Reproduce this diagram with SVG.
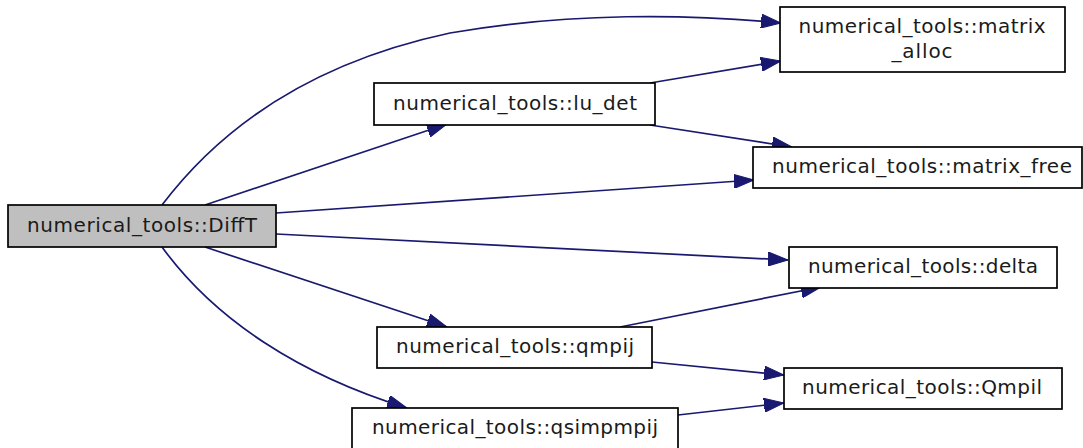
<svg xmlns="http://www.w3.org/2000/svg" width="1083" height="448" viewBox="0 0 1083 448">
  <style>
    .node rect { fill: #ffffff; stroke: #000000; stroke-width: 1.7; }
    .node.root rect { fill: #bfbfbf; }
    .node text { font-family: "DejaVu Sans", "Liberation Sans", sans-serif; font-size: 20px; fill: #1a1a1a; text-anchor: middle; }
    .edge { fill: none; stroke: #191970; stroke-width: 1.7; marker-end: url(#arrow); }
  </style>
  <defs>
    <marker id="arrow" viewBox="0 0 20 14" markerWidth="20" markerHeight="14" markerUnits="userSpaceOnUse" refX="20" refY="7" orient="auto">
      <path d="M0,0 L20,7 L0,14 z" fill="#191970" stroke="#191970" stroke-width="1"/>
    </marker>
  </defs>

  <!-- call edges -->
  <g id="edges">
    <path class="edge" d="M162,205 C215,135 300,65 450,33 C570,12 690,14 781,23"/>
    <path class="edge" d="M205,205 L447,124"/>
    <path class="edge" d="M650,83 L781,61"/>
    <path class="edge" d="M650,125 L792,147"/>
    <path class="edge" d="M276,213 L754,180"/>
    <path class="edge" d="M276,234 L788,260"/>
    <path class="edge" d="M205,247 L447,327"/>
    <path class="edge" d="M620,327 L821,287"/>
    <path class="edge" d="M652,362 L784,375"/>
    <path class="edge" d="M162,247 C215,320 300,375 407,408"/>
    <path class="edge" d="M678,415 L784,403"/>
  </g>

  <g id="node-DiffT" class="node root">
    <rect x="8" y="205" width="268" height="42"/>
    <text x="142" y="232" textLength="230" lengthAdjust="spacing">numerical_tools::DiffT</text>
  </g>
  <g id="node-lu_det" class="node">
    <rect x="374" y="83" width="281" height="42"/>
    <text x="515" y="110" textLength="244" lengthAdjust="spacing">numerical_tools::lu_det</text>
  </g>
  <g id="node-matrix_alloc" class="node">
    <rect x="780" y="7" width="285" height="65"/>
    <text x="922" y="33" textLength="247" lengthAdjust="spacing">numerical_tools::matrix</text>
    <text x="922" y="58" textLength="61" lengthAdjust="spacing">_alloc</text>
  </g>
  <g id="node-matrix_free" class="node">
    <rect x="753" y="147" width="329" height="41"/>
    <text x="922" y="173" textLength="300" lengthAdjust="spacing">numerical_tools::matrix_free</text>
  </g>
  <g id="node-delta" class="node">
    <rect x="789" y="247" width="268" height="41"/>
    <text x="923" y="273" textLength="230" lengthAdjust="spacing">numerical_tools::delta</text>
  </g>
  <g id="node-qmpij" class="node">
    <rect x="377" y="327" width="275" height="41"/>
    <text x="515" y="353" textLength="238" lengthAdjust="spacing">numerical_tools::qmpij</text>
  </g>
  <g id="node-Qmpil" class="node">
    <rect x="784" y="368" width="278" height="41"/>
    <text x="922" y="394" textLength="240" lengthAdjust="spacing">numerical_tools::Qmpil</text>
  </g>
  <g id="node-qsimpmpij" class="node">
    <rect x="352" y="408" width="326" height="42"/>
    <text x="515" y="434" textLength="286" lengthAdjust="spacing">numerical_tools::qsimpmpij</text>
  </g>
</svg>
